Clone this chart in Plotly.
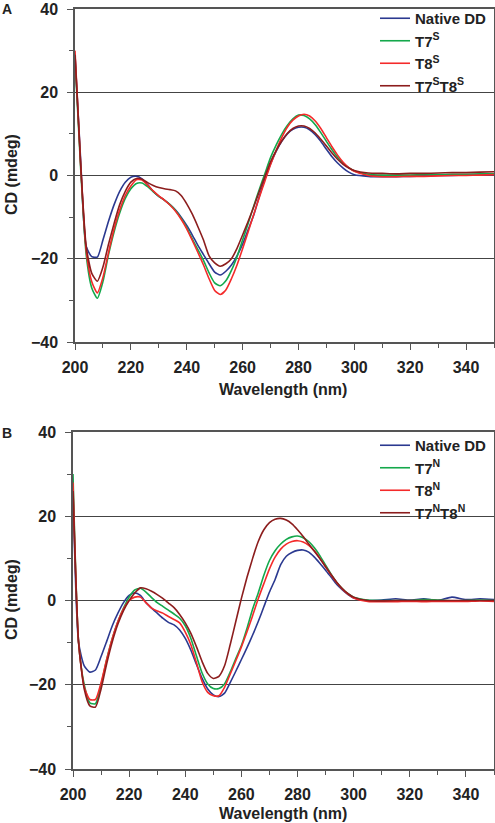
import plotly.graph_objects as go

# wavelengths (nm)
wavelength = list(range(200, 301, 2)) + list(range(305, 351, 5))

# Panel A (phosphorothioate variants)
a_native = [29, 4, -17, -19.5, -19.6, -15.5, -11, -7, -3.8, -1.6, -0.4, -0.2, -0.8, -2.2, -3.8, -5, -5.9, -7, -8.3, -10,
            -12, -14.3, -16.8, -19, -21.2, -23.2, -23.9, -23, -21.5, -19.3, -16.5, -13, -9.5, -5, -0.8, 2.8,
            5.8, 8.2, 10, 11.1, 11.6, 11.6, 11, 9.8, 8.2, 6.3, 4.5, 3, 1.8, 0.8, 0.2,
            -0.2, -0.3, -0.3, -0.2, -0.1, 0, 0, 0.1, 0.1, 0.2]
a_t7 = [28, 2, -19, -27, -29.5, -25.5, -19, -13.5, -9, -5.5, -3.2, -1.9, -1.8, -2.7, -3.9, -5, -5.9, -7, -8.4, -10.3,
        -12.5, -15.3, -17.8, -20.4, -23.4, -25.8, -26.5, -25.3, -22.8, -19.5, -15.5, -11.5, -7.3, -3.3, 0.5, 4.3,
        7.3, 9.9, 12, 13.6, 14.5, 14.4, 13.6, 12.2, 10.3, 8.2, 6.2, 4.4, 3, 1.9, 1.1,
        0.3, 0.1, 0.1, 0.1, 0.2, 0.2, 0.3, 0.3, 0.4, 0.4]
a_t8 = [30, 3, -18, -25.5, -28.2, -24.5, -18.5, -12.8, -8.3, -4.8, -2.5, -1, -1.1, -2.3, -3.7, -4.9, -5.9, -7.1, -8.6, -10.5,
        -12.8, -15.6, -18.5, -21.5, -24.8, -27.6, -28.6, -27.5, -24.8, -21.5, -17.6, -13.5, -9.3, -5.2, -1.3, 2.6,
        6, 9.1, 11.6, 13.3, 14.3, 14.7, 14.3, 13.1, 11.3, 9.1, 6.9, 4.9, 3.2, 1.9, 1,
        0, -0.3, -0.3, -0.2, -0.2, -0.1, 0, 0, 0.1, 0.2]
a_t7t8 = [29, 3, -17, -23.5, -25.4, -22, -16.5, -11.5, -7, -3.8, -1.6, -0.7, -0.9, -1.7, -2.4, -2.9, -3.2, -3.4, -3.7, -4.8,
          -6.8, -9.3, -12.3, -15.5, -19.3, -21, -21.8, -21.2, -20, -17.5, -14.3, -11, -7.5, -3.8, -0.2, 3.3,
          6, 8.3, 10.1, 11.3, 11.9, 11.9, 11.3, 10.2, 8.7, 7.1, 5.4, 3.9, 2.7, 1.8, 1.2,
          0.6, 0.5, 0.4, 0.5, 0.5, 0.6, 0.7, 0.7, 0.8, 0.9]

# Panel B (N variants)
b_native = [27, -10, -15.5, -17, -16.5, -13.3, -9.7, -6, -3, -0.5, 1.2, 1.8, 1.2, -0.5, -1.8, -3, -4.2, -5.2, -5.8, -7,
            -9, -11.8, -15.2, -18.5, -21, -22.4, -22.8, -22, -19.5, -16.8, -14, -11.2, -8.2, -5, -1.5, 2,
            5, 8.5, 10.5, 11.4, 11.9, 12, 11.5, 10.3, 8.8, 7.2, 5.5, 3.8, 2.5, 1.4, 0.6,
            0, 0.1, 0.4, 0.1, 0.4, 0, 0.8, 0.2, 0.4, 0.2]
b_t7 = [30, -10, -20, -24.3, -24.5, -20, -14, -9, -5, -1.8, 0.8, 2.5, 2.9, 2, 0.7, -0.5, -1.4, -2.3, -3.2, -4.2,
        -6, -9, -13.2, -17.2, -19.8, -20.9, -20.9, -19.8, -17, -13.8, -10.7, -6.6, -2, 1.8, 6, 9.5,
        11.8, 13.4, 14.5, 15.1, 15.3, 14.9, 14, 12.5, 10.6, 8.4, 6.2, 4.3, 2.8, 1.6, 0.8,
        0.1, 0, 0, 0, 0.2, 0.1, -0.1, 0, 0.1, 0]
b_t8 = [28, -10, -20.5, -23.5, -23.5, -19.5, -14, -9, -5, -2, 0, 0.8, 0.8, -0.5, -1.8, -2.5, -3, -3.8, -4.5, -5.3,
        -7.5, -10.5, -14.8, -19.3, -21.8, -22.6, -22.6, -20.6, -17.5, -14.3, -11, -7.4, -3.6, 0.4, 4, 7.5,
        10.3, 12.2, 13.4, 14, 14.2, 13.9, 13.1, 11.8, 10, 8, 6, 4.2, 2.7, 1.5, 0.6,
        -0.2, -0.3, -0.3, -0.2, -0.3, -0.2, -0.2, -0.2, -0.1, -0.2]
b_t7t8 = [26, -10, -21, -25, -25.3, -21, -15, -9.8, -5.6, -2.4, 0, 1.8, 3, 2.8, 2.2, 1.4, 0.5, -0.6, -1.7, -3.3,
          -5.3, -7.8, -11, -14.5, -17.3, -18.5, -18, -15.5, -10.5, -5, 0.5, 5.5, 10, 14, 16.8, 18.5,
          19.3, 19.5, 19.1, 18.2, 16.8, 15.2, 13.4, 11.7, 9.9, 8, 6.1, 4.3, 2.8, 1.6, 0.8,
          0, -0.1, 0, 0, 0, 0, 0, 0, 0, 0]

names_a = ["Native DD", "T7<sup>S</sup>", "T8<sup>S</sup>", "T7<sup>S</sup>T8<sup>S</sup>"]
names_b = ["Native DD", "T7<sup>N</sup>", "T8<sup>N</sup>", "T7<sup>N</sup>T8<sup>N</sup>"]
colors = ["#2b3990", "#14a84c", "#f42a2a", "#8c1d1d"]

x_ticks = [200, 220, 240, 260, 280, 300, 320, 340]
y_ticks = [-40, -20, 0, 20, 40]

FONT = "Liberation Sans, Arial, Helvetica, sans-serif"
W, H = 495, 823

fig = go.Figure()
for name, ys, c in zip(names_a, [a_native, a_t7, a_t8, a_t7t8], colors):
    fig.add_trace(go.Scatter(x=wavelength, y=ys, name=name, mode="lines",
                             line=dict(color=c, width=1.6, shape="spline", smoothing=0.6),
                             xaxis="x", yaxis="y", legend="legend"))
for name, ys, c in zip(names_b, [b_native, b_t7, b_t8, b_t7t8], colors):
    fig.add_trace(go.Scatter(x=wavelength, y=ys, name=name, mode="lines",
                             line=dict(color=c, width=1.6, shape="spline", smoothing=0.6),
                             xaxis="x2", yaxis="y2", legend="legend2"))

def px_x(p):
    return p / W

def px_y(p):
    return 1 - p / H

axis_common = dict(showline=True, linecolor="#555555", linewidth=1.5, mirror=True,
                   ticks="outside", ticklen=6, tickwidth=1.2, tickcolor="#555555",
                   tickfont=dict(family=FONT, size=16, color="#222222", weight="bold"),
                   zeroline=False, automargin=False, ticklabeloverflow="allow")

xa = dict(axis_common, range=[200, 350], tickvals=x_ticks, showgrid=False,
          minor=dict(dtick=10, tick0=200, ticks="outside", ticklen=4, tickcolor="#555555", showgrid=False),
          ticklabelstandoff=4)
ya = dict(axis_common, range=[-40, 40], tickvals=y_ticks, showgrid=True, gridcolor="#444444", gridwidth=1.2,
          minor=dict(dtick=10, tick0=0, ticks="outside", ticklen=4, tickcolor="#555555", showgrid=False),
          ticklabelstandoff=6)

legend_font = dict(family=FONT, size=15, color="#222222", weight="bold")

fig.update_layout(
    width=W, height=H, autosize=False,
    margin=dict(l=0, r=0, t=0, b=0, pad=0, autoexpand=False),
    paper_bgcolor="white", plot_bgcolor="white",
    font=dict(family=FONT, color="#222222"),
    showlegend=True,
    xaxis=dict(xa, domain=[px_x(75), px_x(494)], anchor="y"),
    yaxis=dict(ya, domain=[px_y(342), px_y(9)], anchor="x"),
    xaxis2=dict(xa, domain=[px_x(73), px_x(494)], anchor="y2"),
    yaxis2=dict(ya, domain=[px_y(769), px_y(432)], anchor="x2"),
    legend=dict(x=px_x(492), y=px_y(2), xanchor="right", yanchor="top",
                bgcolor="rgba(0,0,0,0)", tracegroupgap=0, font=legend_font),
    legend2=dict(x=px_x(492), y=px_y(429), xanchor="right", yanchor="top",
                 bgcolor="rgba(0,0,0,0)", tracegroupgap=0, font=legend_font),
)

ann_font = dict(family=FONT, size=16, color="#222222", weight="bold")
annotations = [
    dict(text="CD (mdeg)", x=px_x(11), y=px_y(175), textangle=-90),
    dict(text="CD (mdeg)", x=px_x(11), y=px_y(600), textangle=-90),
    dict(text="Wavelength (nm)", x=px_x(283), y=px_y(389)),
    dict(text="Wavelength (nm)", x=px_x(283), y=px_y(813)),
    dict(text="A", x=px_x(7), y=px_y(9), font=dict(family=FONT, size=14, color="#222222", weight="bold")),
    dict(text="B", x=px_x(7), y=px_y(433), font=dict(family=FONT, size=14, color="#222222", weight="bold")),
]
for a in annotations:
    a.setdefault("font", ann_font)
    fig.add_annotation(xref="paper", yref="paper", showarrow=False,
                       xanchor="center", yanchor="middle", **a)

fig.write_html("out.html", config={"displayModeBar": False},
               post_script="document.body.style.margin='0';document.body.style.padding='0';")
